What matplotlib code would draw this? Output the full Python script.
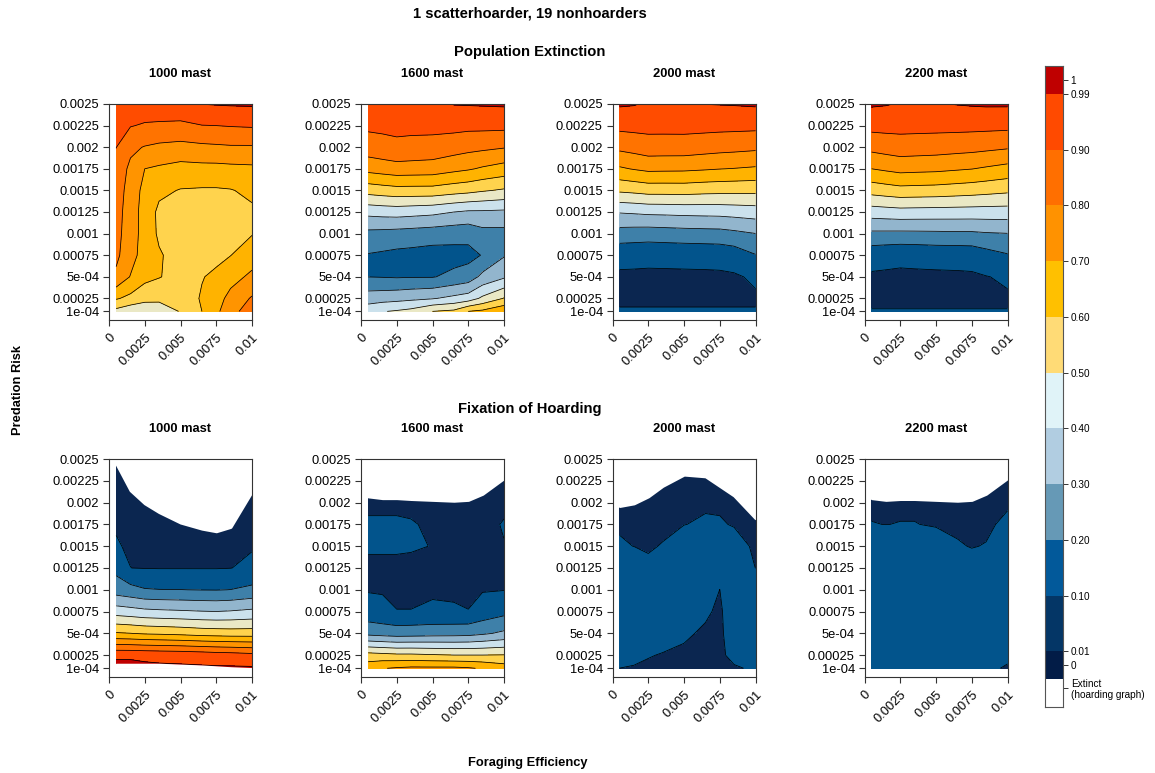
import numpy as np
import matplotlib
matplotlib.use('Agg')
import matplotlib.pyplot as plt

plt.rcParams['font.family'] = ['Liberation Sans', 'DejaVu Sans']

# ---------------- data ----------------
foraging = [0.0005, 0.0015, 0.0025, 0.0035, 0.005, 0.0065, 0.0075, 0.0085, 0.01]
predation = [0.0025, 0.00225, 0.002, 0.00175, 0.0015, 0.00125, 0.001, 0.00075, 0.0005, 0.00025, 0.0001]
masts = ['1000 mast', '1600 mast', '2000 mast', '2200 mast']
levels = [0, 0.01, 0.1, 0.2, 0.3, 0.4, 0.5, 0.6, 0.7, 0.8, 0.9, 0.99, 1.0]
panel_colors = ['#0B2650', '#02548C', '#3E80A9', '#92B5CD', '#CBE1EC', '#EAE8C5',
                '#FFD34D', '#FFB300', '#FF9400', '#FF7300', '#FF4C00', '#C00000']
legend_colors = ['#021C47', '#043666', '#02599A', '#6699B6', '#B1CDE1', '#E0F3F8',
                 '#FFDB76', '#FFC000', '#FF9200', '#FF6F00', '#FF4A00', '#BF0000']
legend_labels = ['0', '0.01', '0.10', '0.20', '0.30', '0.40', '0.50', '0.60',
                 '0.70', '0.80', '0.90', '0.99', '1']
extinct_label = 'Extinct\n(hoarding graph)'
xtick_vals = [0, 0.0025, 0.005, 0.0075, 0.01]
xtick_labels = ['0', '0.0025', '0.005', '0.0075', '0.01']
ytick_vals = [0.0001, 0.00025, 0.0005, 0.00075, 0.001, 0.00125, 0.0015, 0.00175, 0.002, 0.00225, 0.0025]
ytick_labels = ['1e-04', '0.00025', '5e-04', '0.00075', '0.001', '0.00125', '0.0015',
                '0.00175', '0.002', '0.00225', '0.0025']

# Population extinction (rows = predation, top to bottom; cols = foraging)
ext_1000 = [
    [0.95, 0.95, 0.96, 0.965, 0.97, 0.991, 0.995, 0.998, 1.0],
    [0.93, 0.905, 0.89, 0.885, 0.88, 0.898, 0.90, 0.905, 0.91],
    [0.902, 0.82, 0.795, 0.78, 0.77, 0.78, 0.785, 0.79, 0.79],
    [0.86, 0.78, 0.70, 0.685, 0.665, 0.67, 0.67, 0.675, 0.68],
    [0.85, 0.76, 0.67, 0.62, 0.595, 0.59, 0.59, 0.595, 0.62],
    [0.84, 0.75, 0.66, 0.58, 0.56, 0.555, 0.56, 0.57, 0.585],
    [0.83, 0.75, 0.66, 0.585, 0.555, 0.55, 0.56, 0.575, 0.595],
    [0.82, 0.74, 0.655, 0.61, 0.56, 0.56, 0.575, 0.598, 0.655],
    [0.782, 0.695, 0.63, 0.605, 0.565, 0.595, 0.62, 0.665, 0.72],
    [0.61, 0.574, 0.53, 0.52, 0.54, 0.61, 0.66, 0.73, 0.81],
    [0.47, 0.43, 0.43, 0.45, 0.505, 0.60, 0.68, 0.76, 0.86],
]
ext_1600 = [
    [0.95, 0.95, 0.95, 0.955, 0.97, 0.993, 0.995, 0.997, 1.0],
    [0.918, 0.92, 0.922, 0.923, 0.927, 0.929, 0.925, 0.926, 0.926],
    [0.855, 0.868, 0.88, 0.873, 0.864, 0.844, 0.83, 0.821, 0.806],
    [0.733, 0.747, 0.76, 0.757, 0.753, 0.726, 0.71, 0.688, 0.66],
    [0.54, 0.553, 0.564, 0.563, 0.562, 0.541, 0.529, 0.51, 0.488],
    [0.33, 0.338, 0.343, 0.336, 0.325, 0.30, 0.286, 0.286, 0.281],
    [0.173, 0.169, 0.163, 0.157, 0.147, 0.137, 0.132, 0.167, 0.169],
    [0.094, 0.085, 0.075, 0.07, 0.06, 0.065, 0.07, 0.105, 0.192],
    [0.099, 0.096, 0.092, 0.095, 0.095, 0.123, 0.146, 0.226, 0.286],
    [0.253, 0.259, 0.267, 0.278, 0.293, 0.326, 0.348, 0.42, 0.505],
    [0.36, 0.395, 0.41, 0.43, 0.50, 0.52, 0.60, 0.62, 0.68],
]
ext_2000 = [
    [1.0, 0.995, 0.98, 0.98, 0.98, 0.991, 0.993, 0.995, 1.0],
    [0.927, 0.93, 0.93, 0.93, 0.931, 0.93, 0.928, 0.927, 0.925],
    [0.824, 0.838, 0.855, 0.854, 0.854, 0.842, 0.835, 0.83, 0.821],
    [0.687, 0.706, 0.722, 0.72, 0.718, 0.709, 0.702, 0.697, 0.687],
    [0.516, 0.526, 0.539, 0.539, 0.541, 0.532, 0.529, 0.527, 0.525],
    [0.307, 0.313, 0.321, 0.323, 0.328, 0.331, 0.333, 0.339, 0.349],
    [0.157, 0.152, 0.148, 0.152, 0.158, 0.162, 0.164, 0.177, 0.199],
    [0.03, 0.028, 0.025, 0.026, 0.028, 0.03, 0.033, 0.045, 0.096],
    [0.0, 0.0, 0.0, 0.0, 0.0, 0.0, 0.0, 0.002, 0.02],
    [0.002, 0.002, 0.002, 0.002, 0.002, 0.002, 0.002, 0.002, 0.002],
    [0.014, 0.014, 0.014, 0.014, 0.014, 0.014, 0.014, 0.014, 0.014],
]
ext_2200 = [
    [1.0, 0.995, 0.985, 0.985, 0.985, 0.993, 0.997, 1.0, 1.0],
    [0.931, 0.932, 0.931, 0.93, 0.929, 0.929, 0.928, 0.927, 0.925],
    [0.829, 0.842, 0.853, 0.85, 0.845, 0.837, 0.832, 0.824, 0.811],
    [0.70, 0.716, 0.731, 0.727, 0.722, 0.71, 0.702, 0.688, 0.667],
    [0.539, 0.553, 0.566, 0.563, 0.559, 0.549, 0.542, 0.533, 0.519],
    [0.349, 0.356, 0.363, 0.361, 0.359, 0.357, 0.356, 0.355, 0.355],
    [0.18, 0.179, 0.178, 0.179, 0.181, 0.184, 0.184, 0.192, 0.198],
    [0.036, 0.028, 0.02, 0.023, 0.031, 0.032, 0.036, 0.062, 0.093],
    [0.0015, 0.0014, 0.003, 0.0024, 0.0, 0.001, 0.0015, 0.0075, 0.02],
    [0.002, 0.002, 0.002, 0.002, 0.002, 0.002, 0.002, 0.002, 0.002],
    [0.012, 0.012, 0.012, 0.012, 0.012, 0.012, 0.012, 0.012, 0.012],
]

# Fixation of hoarding
fix_1000 = [
    [0.003, 0.002, 0.002, 0.002, 0.002, 0.002, 0.002, 0.002, 0.002],
    [0.004, 0.003, 0.003, 0.003, 0.003, 0.003, 0.003, 0.003, 0.003],
    [0.006, 0.004, 0.004, 0.004, 0.004, 0.004, 0.004, 0.004, 0.004],
    [0.008, 0.005, 0.005, 0.005, 0.005, 0.005, 0.005, 0.005, 0.005],
    [0.012, 0.007, 0.007, 0.007, 0.007, 0.007, 0.007, 0.007, 0.006],
    [0.073, 0.0102, 0.008, 0.007, 0.007, 0.007, 0.007, 0.009, 0.022],
    [0.15, 0.129, 0.106, 0.102, 0.101, 0.098, 0.097, 0.101, 0.122],
    [0.354, 0.341, 0.326, 0.319, 0.312, 0.304, 0.301, 0.307, 0.322],
    [0.61, 0.602, 0.59, 0.585, 0.575, 0.56, 0.555, 0.55, 0.55],
    [0.985, 0.985, 0.98, 0.975, 0.97, 0.96, 0.95, 0.945, 0.93],
    [1.0, 1.0, 1.0, 1.0, 1.0, 1.0, 1.0, 1.0, 1.0],
]
fix_1600 = [
    [0.005, 0.005, 0.005, 0.005, 0.005, 0.005, 0.005, 0.005, 0.005],
    [0.006, 0.006, 0.006, 0.006, 0.006, 0.006, 0.006, 0.006, 0.006],
    [0.007, 0.007, 0.007, 0.007, 0.007, 0.007, 0.007, 0.007, 0.007],
    [0.012, 0.012, 0.012, 0.011, 0.008, 0.006, 0.006, 0.006, 0.011],
    [0.013, 0.013, 0.013, 0.012, 0.0095, 0.006, 0.006, 0.006, 0.0095],
    [0.005, 0.005, 0.005, 0.005, 0.005, 0.005, 0.005, 0.005, 0.006],
    [0.006, 0.006, 0.006, 0.006, 0.006, 0.006, 0.006, 0.006, 0.008],
    [0.037, 0.024, 0.0105, 0.0105, 0.015, 0.013, 0.0105, 0.04, 0.072],
    [0.171, 0.16, 0.15, 0.153, 0.16, 0.163, 0.167, 0.185, 0.218],
    [0.54, 0.53, 0.52, 0.52, 0.51, 0.502, 0.502, 0.502, 0.505],
    [0.66, 0.695, 0.71, 0.72, 0.72, 0.72, 0.71, 0.69, 0.65],
]
fix_2000 = [
    [0.005, 0.005, 0.005, 0.005, 0.005, 0.005, 0.005, 0.005, 0.004],
    [0.006, 0.006, 0.006, 0.006, 0.006, 0.005, 0.006, 0.006, 0.004],
    [0.007, 0.007, 0.007, 0.007, 0.006, 0.007, 0.007, 0.007, 0.004],
    [0.008, 0.006, 0.005, 0.006, 0.0095, 0.013, 0.012, 0.0085, 0.004],
    [0.012, 0.0098, 0.008, 0.011, 0.025, 0.03, 0.025, 0.02, 0.006],
    [0.03, 0.025, 0.014, 0.03, 0.04, 0.035, 0.02, 0.03, 0.0098],
    [0.04, 0.04, 0.035, 0.04, 0.045, 0.03, 0.0098, 0.035, 0.025],
    [0.04, 0.04, 0.04, 0.04, 0.04, 0.015, 0.004, 0.035, 0.03],
    [0.035, 0.035, 0.03, 0.025, 0.015, 0.005, 0.003, 0.03, 0.03],
    [0.025, 0.02, 0.012, 0.008, 0.004, 0.003, 0.003, 0.02, 0.025],
    [0.0098, 0.007, 0.004, 0.003, 0.002, 0.002, 0.002, 0.006, 0.015],
]
fix_2200 = [
    [0.005, 0.005, 0.005, 0.005, 0.005, 0.005, 0.005, 0.005, 0.005],
    [0.006, 0.006, 0.006, 0.006, 0.006, 0.006, 0.006, 0.006, 0.006],
    [0.007, 0.007, 0.007, 0.007, 0.007, 0.007, 0.007, 0.007, 0.007],
    [0.0105, 0.0098, 0.0105, 0.0105, 0.0085, 0.006, 0.005, 0.006, 0.015],
    [0.03, 0.028, 0.03, 0.03, 0.02, 0.012, 0.009, 0.011, 0.025],
    [0.04, 0.04, 0.04, 0.04, 0.035, 0.03, 0.02, 0.025, 0.035],
    [0.045, 0.045, 0.045, 0.045, 0.045, 0.04, 0.035, 0.035, 0.04],
    [0.045, 0.045, 0.045, 0.045, 0.045, 0.045, 0.04, 0.04, 0.04],
    [0.04, 0.04, 0.04, 0.04, 0.04, 0.04, 0.04, 0.035, 0.03],
    [0.035, 0.035, 0.035, 0.035, 0.035, 0.035, 0.035, 0.03, 0.02],
    [0.03, 0.03, 0.03, 0.03, 0.03, 0.03, 0.03, 0.02, 0.005],
]
# predation risk above which the population went extinct (no hoarding value)
extinct_above_1000 = [0.00245, 0.00214, 0.00199, 0.00189, 0.00177, 0.0017, 0.00167, 0.00172, 0.00213]
extinct_above_1600 = [0.00207, 0.00205, 0.00205, 0.00204, 0.00203, 0.00202, 0.00203, 0.0021, 0.00228]
extinct_above_2000 = [0.00196, 0.00199, 0.00207, 0.00219, 0.00232, 0.0023, 0.00219, 0.00208, 0.00182]
extinct_above_2200 = [0.00205, 0.00203, 0.00204, 0.00204, 0.00203, 0.00202, 0.00203, 0.0021, 0.00228]
extinct_below_1000 = [0.00015, 0.00015, 0.00015, 0.00015, 0.00014, 0.00013, 0.00012, 0.00011, 0.0001]

ext_grids = [ext_1000, ext_1600, ext_2000, ext_2200]
fix_grids = [fix_1000, fix_1600, fix_2000, fix_2200]
fix_above = [extinct_above_1000, extinct_above_1600, extinct_above_2000, extinct_above_2200]
fix_below = [extinct_below_1000, None, None, None]

# ---------------- figure ----------------
W, H = 1155, 773
fig = plt.figure(figsize=(W / 100, H / 100), dpi=100)

col_left = [109, 361, 612.5, 864.5]
ax_w = 143
rows_px = [(104, 320), (459, 677)]
spine_col = '#333333'


def px_axes(left, top, bottom, width):
    return fig.add_axes([left / W, 1 - bottom / H, width / W, (bottom - top) / H])


def draw_panel(ax, grid, above=None, below=None):
    X = np.array(foraging)
    Y = np.array(predation[::-1])
    Z = np.flipud(np.array(grid, dtype=float))
    ax.contourf(X, Y, Z, levels=levels, colors=panel_colors, zorder=1)
    ax.contour(X, Y, Z, levels=levels[1:-1], colors='black', linewidths=0.55, zorder=1.5)
    if above is not None:
        ax.fill_between(X, above, max(predation), facecolor='white', edgecolor='white',
                        lw=2.0, zorder=2.1)
    if below is not None:
        ax.fill_between(X, min(predation), below, facecolor='white', edgecolor='white',
                        lw=1.0, zorder=2.1)
    ax.set_xlim(0, 0.01)
    ax.set_ylim(0, 0.0025)
    ax.set_xticks(xtick_vals)
    ax.set_xticklabels(xtick_labels, rotation=45, ha='right', va='top',
                       rotation_mode='anchor')
    ax.set_yticks(ytick_vals)
    ax.set_yticklabels(ytick_labels)
    ax.tick_params(axis='both', direction='out', length=4.5, width=0.8,
                   color=spine_col, labelsize=9.3, pad=2.5)
    ax.tick_params(axis='x', pad=4)
    for s in ax.spines.values():
        s.set_color(spine_col)
        s.set_linewidth(0.8)
        s.set_zorder(3)


for r, (grids, extras) in enumerate([(ext_grids, None), (fix_grids, True)]):
    top, bottom = rows_px[r]
    for c in range(4):
        ax = px_axes(col_left[c], top, bottom, ax_w)
        if extras:
            draw_panel(ax, grids[c], fix_above[c], fix_below[c])
        else:
            draw_panel(ax, grids[c])
        fig.text((col_left[c] + ax_w / 2) / W, 1 - (top - 30) / H, masts[c],
                 ha='center', va='center', fontsize=9.3, fontweight='bold')

fig.text(530 / W, 1 - 14 / H, '1 scatterhoarder, 19 nonhoarders', ha='center', va='center',
         fontsize=10.6, fontweight='bold')
fig.text(530 / W, 1 - 52 / H, 'Population Extinction', ha='center', va='center',
         fontsize=10.6, fontweight='bold')
fig.text(530 / W, 1 - 409 / H, 'Fixation of Hoarding', ha='center', va='center',
         fontsize=10.6, fontweight='bold')
fig.text(18 / W, 1 - 390 / H, 'Predation Risk', ha='center', va='center', rotation=90,
         fontsize=9.3, fontweight='bold')
fig.text(528 / W, 1 - 763 / H, 'Foraging Efficiency', ha='center', va='center',
         fontsize=9.3, fontweight='bold')

# ---------------- legend bar ----------------
cax = px_axes(1045, 66, 707, 18)
edges = [0, 0.5, 1] + list(range(2, 12)) + [11.5]
heights = [edges[i + 1] - edges[i] for i in range(len(edges) - 1)]
cax.bar([0.5], [heights[0]], bottom=[edges[0]], width=1, color='white', lw=0)
cax.bar([0.5] * len(legend_colors), heights[1:], bottom=edges[1:-1], width=1,
        color=legend_colors, lw=0)
cax.set_xlim(0, 1)
cax.set_ylim(0, 11.5)
cax.set_xticks([])
tick_pos = [0.75] + list(range(1, 12)) + [11.25, 0.34]
cax.yaxis.tick_right()
cax.set_yticks(tick_pos)
cax.set_yticklabels(legend_labels + [extinct_label])
cax.tick_params(axis='y', direction='out', length=3.5, width=0.7, color='#333333',
                labelsize=7.2, pad=2)
for lab in cax.get_yticklabels():
    lab.set_linespacing(1.1)
for s in cax.spines.values():
    s.set_color('#555555')
    s.set_linewidth(0.8)

fig.savefig('out.png', dpi=100)
